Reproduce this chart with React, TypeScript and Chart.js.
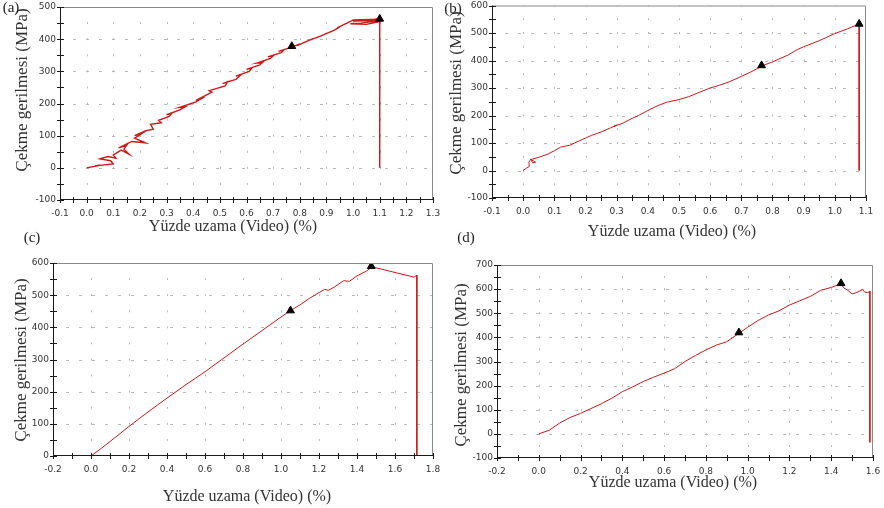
import React, { useEffect, useRef } from 'react';
import { Chart, registerables } from 'chart.js';
Chart.register(...registerables);

// ---------- DATA ----------
const aX = [0.00, 0.05, 0.03, 0.10, 0.09, 0.05, 0.08, 0.11, 0.10, 0.13, 0.16, 0.14, 0.15, 0.12, 0.17, 0.22, 0.18, 0.21, 0.18, 0.22, 0.25, 0.24, 0.28, 0.27, 0.31, 0.32, 0.30, 0.35, 0.37, 0.35, 0.41, 0.43, 0.41, 0.47, 0.46, 0.52, 0.53, 0.51, 0.56, 0.58, 0.56, 0.61, 0.62, 0.60, 0.65, 0.66, 0.64, 0.69, 0.70, 0.68, 0.73, 0.74, 0.72, 0.77, 0.80, 0.79, 0.83, 0.85, 0.84, 0.88, 0.90, 0.89, 0.93, 0.95, 0.94, 0.99, 1.00, 1.10, 1.00, 1.10, 1.03, 0.99, 1.05, 1.10, 1.10, 1.10];
const aY = [0, 8, 6, 12, 22, 28, 35, 30, 40, 55, 42, 58, 70, 62, 82, 78, 92, 108, 100, 115, 120, 135, 140, 148, 160, 170, 165, 180, 190, 188, 205, 215, 210, 235, 240, 255, 268, 262, 275, 290, 285, 300, 310, 306, 320, 328, 326, 340, 348, 345, 358, 366, 362, 375, 385, 380, 395, 402, 398, 410, 418, 414, 428, 438, 435, 455, 460, 462, 456, 458, 450, 448, 446, 455, 100, 0];
const aMarkX = [0.77, 1.10];
const aMarkY = [378, 463];

const bX = [0.00, 0.01, 0.02, 0.018, 0.025, 0.03, 0.04, 0.025, 0.05, 0.08, 0.10, 0.12, 0.15, 0.18, 0.20, 0.22, 0.25, 0.28, 0.30, 0.29, 0.32, 0.35, 0.37, 0.40, 0.43, 0.46, 0.50, 0.53, 0.56, 0.60, 0.63, 0.66, 0.70, 0.73, 0.75, 0.77, 0.80, 0.82, 0.85, 0.88, 0.90, 0.95, 1.00, 1.04, 1.078, 1.078];
const bY = [0, 8, 15, 30, 42, 28, 30, 40, 48, 60, 72, 85, 92, 108, 118, 128, 140, 155, 165, 160, 172, 190, 200, 218, 235, 248, 258, 268, 282, 300, 310, 322, 342, 358, 370, 382, 395, 405, 420, 440, 450, 472, 498, 515, 533, 0];
const bMarkX = [0.765, 1.078];
const bMarkY = [382, 533];

const cX = [0.00, 0.05, 0.10, 0.20, 0.30, 0.40, 0.50, 0.60, 0.70, 0.80, 0.90, 1.00, 1.05, 1.10, 1.15, 1.20, 1.23, 1.25, 1.28, 1.33, 1.36, 1.40, 1.45, 1.48, 1.70, 1.715, 1.715];
const cY = [0, 22, 45, 92, 137, 180, 222, 262, 305, 348, 390, 432, 452, 470, 490, 508, 518, 515, 525, 545, 543, 560, 575, 588, 556, 562, 0];
const cMarkX = [1.05, 1.475];
const cMarkY = [452, 590];

const dX = [0.00, 0.05, 0.10, 0.15, 0.20, 0.25, 0.30, 0.35, 0.40, 0.45, 0.50, 0.55, 0.60, 0.65, 0.70, 0.75, 0.80, 0.85, 0.90, 0.96, 1.00, 1.05, 1.10, 1.15, 1.20, 1.25, 1.30, 1.35, 1.40, 1.447, 1.46, 1.48, 1.50, 1.52, 1.55, 1.56, 1.575, 1.585, 1.585];
const dY = [0, 15, 45, 68, 85, 105, 125, 148, 175, 195, 217, 235, 252, 270, 300, 325, 348, 368, 382, 418, 442, 470, 493, 510, 534, 552, 570, 595, 607, 622, 605, 595, 580, 585, 598, 588, 585, 592, -35];
const dMarkX = [0.958, 1.447];
const dMarkY = [420, 624];

const panelLabels = ['(a)', '(b)', '(c)', '(d)'];
const xTitle = 'Yüzde uzama (Video) (%)';
const yTitle = 'Çekme gerilmesi (MPa)';

// ---------- LAYOUT ----------
type Panel = {
  xs: number[]; ys: number[]; mx: number[]; my: number[];
  xMin: number; xMax: number; xStep: number; xMinor: number;
  yMin: number; yMax: number; yStep: number; yMinor: number;
  canvas: { left: number; top: number; width: number; height: number };
  plot: { left: number; top: number; right: number; bottom: number };
  yT: [number, number]; xT: [number, number]; lab: [number, number];
  label: string; lw: number;
};

const panels: Panel[] = [
  { xs: aX, ys: aY, mx: aMarkX, my: aMarkY, xMin: -0.1, xMax: 1.3, xStep: 0.1, xMinor: 0.05, yMin: -100, yMax: 500, yStep: 100, yMinor: 50,
    canvas: { left: 0, top: 0, width: 442, height: 250 }, plot: { left: 60, top: 7, right: 433, bottom: 200 },
    yT: [23, 90], xT: [233, 227], lab: [11, 7], label: panelLabels[0], lw: 1.4 },
  { xs: bX, ys: bY, mx: bMarkX, my: bMarkY, xMin: -0.1, xMax: 1.1, xStep: 0.1, xMinor: 0.05, yMin: -100, yMax: 600, yStep: 100, yMinor: 50,
    canvas: { left: 442, top: 0, width: 442, height: 250 }, plot: { left: 492, top: 5, right: 866, bottom: 198 },
    yT: [457, 93], xT: [672, 232], lab: [453, 8], label: panelLabels[1], lw: 1 },
  { xs: cX, ys: cY, mx: cMarkX, my: cMarkY, xMin: -0.2, xMax: 1.8, xStep: 0.2, xMinor: 0.1, yMin: 0, yMax: 600, yStep: 100, yMinor: 50,
    canvas: { left: 0, top: 250, width: 442, height: 258 }, plot: { left: 53, top: 263, right: 433, bottom: 456 },
    yT: [22, 360], xT: [247, 497], lab: [32, 237], label: panelLabels[2], lw: 1 },
  { xs: dX, ys: dY, mx: dMarkX, my: dMarkY, xMin: -0.2, xMax: 1.6, xStep: 0.2, xMinor: 0.1, yMin: -100, yMax: 700, yStep: 100, yMinor: 50,
    canvas: { left: 442, top: 250, width: 442, height: 258 }, plot: { left: 497, top: 265, right: 873, bottom: 458 },
    yT: [462, 365], xT: [673, 483], lab: [466, 237], label: panelLabels[3], lw: 1 },
];

const AXW = 40;
const AXH = 40;

function makeChart(canvas: HTMLCanvasElement, p: Panel) {
  const c = p.canvas;
  const pad = {
    left: p.plot.left - c.left - AXW,
    top: p.plot.top - c.top,
    right: c.left + c.width - p.plot.right,
    bottom: c.top + c.height - p.plot.bottom - AXH,
  };
  const decor = {
    id: 'decor',
    beforeDatasetsDraw(chart: any) {
      const { ctx, chartArea: { left, right, top, bottom }, scales: { x, y } } = chart;
      ctx.save();
      ctx.strokeStyle = '#b8b8b8';
      ctx.lineWidth = 1;
      const sp = (bottom - top) / ((p.yMax - p.yMin) / p.yMinor);
      const nx = Math.round((p.xMax - p.xMin) / p.xStep);
      for (let i = 1; i < nx; i++) {
        const v = p.xMin + i * p.xStep;
        const px = Math.round(x.getPixelForValue(v)) + 0.5;
        ctx.setLineDash([2, sp - 2]);
        ctx.lineDashOffset = 1;
        ctx.beginPath(); ctx.moveTo(px, bottom); ctx.lineTo(px, top); ctx.stroke();
      }
      const ny = Math.round((p.yMax - p.yMin) / p.yStep);
      for (let i = 1; i < ny; i++) {
        const v = p.yMin + i * p.yStep;
        const py = Math.round(y.getPixelForValue(v)) + 0.5;
        ctx.setLineDash([3, 10]);
        ctx.lineDashOffset = 0;
        ctx.beginPath(); ctx.moveTo(left, py); ctx.lineTo(right, py); ctx.stroke();
      }
      ctx.restore();
    },
    afterDatasetsDraw(chart: any) {
      const { ctx, chartArea: { left, right, top, bottom }, scales: { x, y } } = chart;
      ctx.save();
      ctx.setLineDash([]);
      ctx.lineWidth = 1;
      ctx.strokeStyle = '#8a8a8a';
      ctx.beginPath();
      ctx.moveTo(left, top + 0.5); ctx.lineTo(right - 0.5, top + 0.5); ctx.lineTo(right - 0.5, bottom);
      ctx.stroke();
      ctx.strokeStyle = '#1a1a1a';
      ctx.beginPath();
      ctx.moveTo(left + 0.5, top); ctx.lineTo(left + 0.5, bottom - 0.5); ctx.lineTo(right, bottom - 0.5);
      ctx.stroke();
      ctx.beginPath();
      const nxm = Math.round((p.xMax - p.xMin) / p.xMinor);
      for (let i = 0; i <= nxm; i++) {
        const px = Math.round(x.getPixelForValue(p.xMin + i * p.xMinor)) + 0.5;
        ctx.moveTo(px, bottom - 3); ctx.lineTo(px, bottom + 3);
      }
      const nym = Math.round((p.yMax - p.yMin) / p.yMinor);
      for (let i = 0; i <= nym; i++) {
        const py = Math.round(y.getPixelForValue(p.yMin + i * p.yMinor)) + 0.5;
        ctx.moveTo(left - 3, py); ctx.lineTo(left + 4, py);
      }
      ctx.stroke();
      ctx.restore();
    },
    afterDraw(chart: any) {
      const { ctx } = chart;
      ctx.save();
      ctx.fillStyle = '#333';
      ctx.textAlign = 'center';
      ctx.textBaseline = 'middle';
      ctx.font = '16px "Liberation Serif", "Times New Roman", serif';
      ctx.fillText(xTitle, p.xT[0] - c.left, p.xT[1] - c.top);
      ctx.font = '17px "Liberation Serif", "Times New Roman", serif';
      ctx.translate(p.yT[0] - c.left, p.yT[1] - c.top);
      ctx.rotate(-Math.PI / 2);
      ctx.fillText(yTitle, 0, 0);
      ctx.restore();
    },
  };

  const tickFont = { family: '"DejaVu Sans", Verdana, sans-serif', size: 9 };
  return new Chart(canvas, {
    type: 'scatter',
    data: {
      datasets: [
        {
          data: p.mx.map((v, i) => ({ x: v, y: p.my[i] })),
          showLine: false,
          pointStyle: 'triangle',
          pointRadius: 4.5,
          backgroundColor: '#000',
          borderColor: '#000',
          borderWidth: 1,
          order: 0,
        },
        {
          data: p.xs.map((v, i) => ({ x: v, y: p.ys[i] })),
          showLine: true,
          borderColor: '#cc1a1a',
          borderWidth: p.lw,
          pointRadius: 0,
          fill: false,
          tension: 0,
          order: 1,
        },
      ],
    },
    options: {
      animation: false,
      responsive: false,
      maintainAspectRatio: false,
      events: [],
      layout: { padding: pad },
      plugins: { legend: { display: false }, tooltip: { enabled: false } },
      scales: {
        x: {
          type: 'linear', min: p.xMin, max: p.xMax,
          grid: { display: false, drawTicks: false },
          border: { display: false },
          ticks: {
            stepSize: p.xStep, autoSkip: false, maxRotation: 0, padding: 8,
            font: tickFont, color: '#333',
            callback: (v: any) => (Math.round(Number(v) * 10) / 10).toFixed(1),
          },
          afterFit: (s: any) => { s.height = AXH; s.paddingLeft = 0; s.paddingRight = 0; },
        },
        y: {
          type: 'linear', min: p.yMin, max: p.yMax,
          grid: { display: false, drawTicks: false },
          border: { display: false },
          ticks: {
            stepSize: p.yStep, autoSkip: false, padding: 4,
            font: tickFont, color: '#333',
            callback: (v: any) => String(Math.round(Number(v))),
          },
          afterFit: (s: any) => { s.width = AXW; s.paddingTop = 0; s.paddingBottom = 0; },
        },
      },
    },
    plugins: [decor],
  } as any);
}

function PanelChart({ p }: { p: Panel }) {
  const ref = useRef<HTMLCanvasElement>(null);
  useEffect(() => {
    if (!ref.current) return;
    const ch = makeChart(ref.current, p);
    return () => ch.destroy();
  }, [p]);
  return (
    <>
      <canvas
        ref={ref}
        width={p.canvas.width}
        height={p.canvas.height}
        style={{ position: 'absolute', left: p.canvas.left, top: p.canvas.top, width: p.canvas.width, height: p.canvas.height }}
      />
      <div
        style={{
          position: 'absolute', left: p.lab[0], top: p.lab[1], transform: 'translate(-50%, -50%)',
          font: '15px "Liberation Serif", "Times New Roman", serif', color: '#222', whiteSpace: 'nowrap', lineHeight: 1,
        }}
      >
        {p.label}
      </div>
    </>
  );
}

export default function App() {
  return (
    <div style={{ position: 'absolute', left: 0, top: 0, width: 884, height: 508, background: '#fff', overflow: 'hidden' }}>
      {panels.map((p, i) => <PanelChart key={i} p={p} />)}
    </div>
  );
}
